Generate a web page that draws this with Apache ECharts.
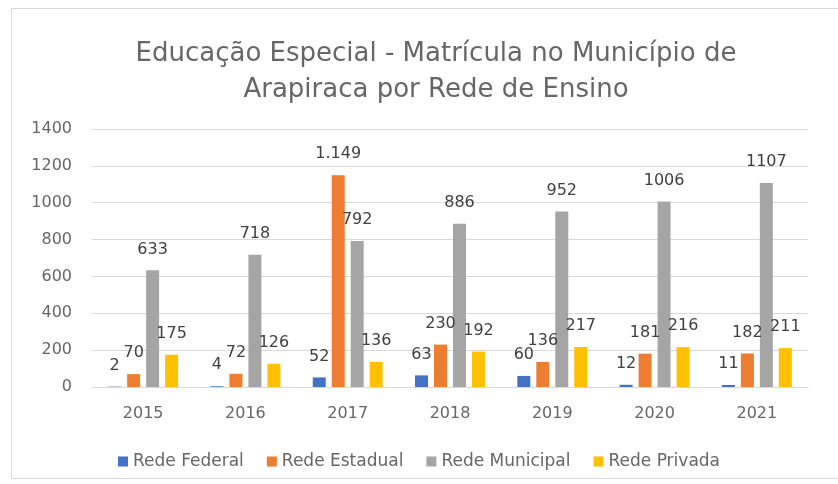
<!DOCTYPE html>
<html><head><meta charset="utf-8">
<script src="https://cdn.jsdelivr.net/npm/echarts@6/dist/echarts.min.js"></script>
<style>
html,body{margin:0;padding:0;background:#fff;overflow:hidden}
#frame{position:absolute;left:11px;top:8px;width:860px;height:471px;border:1px solid #d9d9d9;box-sizing:border-box}
#c{position:absolute;left:0;top:0;width:838px;height:484px}
</style></head>
<body>
<div id="frame"></div>
<div id="c"></div>
<script>
const years = ['2015','2016','2017','2018','2019','2020','2021'];
const redeFederal = [2, 4, 52, 63, 60, 12, 11];
const redeEstadual = [70, 72, 1149, 230, 136, 181, 182];
const redeMunicipal = [633, 718, 792, 886, 952, 1006, 1107];
const redePrivada = [175, 126, 136, 192, 217, 216, 211];
const seriesNames = ['Rede Federal','Rede Estadual','Rede Municipal','Rede Privada'];
const colors = ['#4472C4','#ED7D31','#A5A5A5','#FFC000'];
const titleLines = ['Educação Especial - Matrícula no Município de','Arapiraca por Rede de Ensino'];

const font = "'DejaVu Sans', 'Open Sans', sans-serif";
const chart = echarts.init(document.getElementById('c'));
const lbl = (fmt) => ({
  show: true, position: 'top', distance: 13,
  color: '#404040', fontSize: 16, fontFamily: font,
  formatter: fmt
});
const mk = (name, data, color, fmt) => ({
  name, type: 'bar', data, barWidth: 13, barGap: '46%',
  itemStyle: { color }, label: lbl(fmt)
});
chart.setOption({
  animation: false,
  title: {
    text: titleLines.join('\n'), left: 431, top: 31, textAlign: 'center',
    textStyle: { fontFamily: font, fontWeight: 'normal', fontSize: 26, color: '#666666', lineHeight: 36 }
  },
  legend: {
    data: seriesNames, top: 448, left: 'center', itemWidth: 10, itemHeight: 10, itemGap: 23,
    icon: 'rect',
    textStyle: { fontFamily: font, fontSize: 17, color: '#666666' }
  },
  grid: { left: 92, right: 30, top: 129, bottom: 97 },
  xAxis: {
    type: 'category', data: years,
    axisLine: { lineStyle: { color: '#d9d9d9' } },
    axisTick: { show: false },
    axisLabel: { fontFamily: font, fontSize: 16, color: '#666666', margin: 19 }
  },
  yAxis: {
    type: 'value', min: 0, max: 1400, interval: 200,
    axisLine: { show: false }, axisTick: { show: false },
    splitLine: { lineStyle: { color: '#d9d9d9' } },
    axisLabel: { fontFamily: font, fontSize: 16, color: '#666666', margin: 20, formatter: v => String(v) }
  },
  series: [
    mk(seriesNames[0], redeFederal, colors[0]),
    mk(seriesNames[1], redeEstadual, colors[1], p => p.value.toLocaleString('pt-BR')),
    mk(seriesNames[2], redeMunicipal, colors[2]),
    mk(seriesNames[3], redePrivada, colors[3])
  ]
});
</script>
</body></html>
